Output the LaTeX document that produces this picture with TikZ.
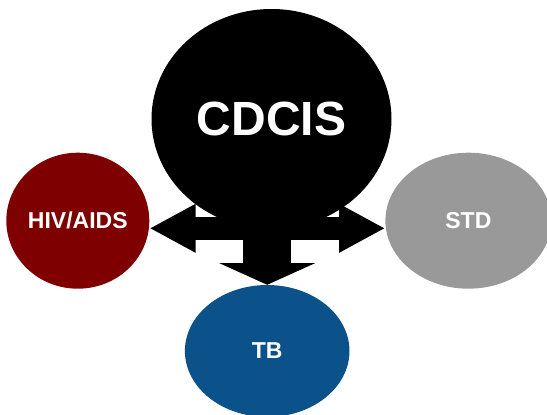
\documentclass[tikz,border=0pt]{standalone}
\usepackage{fontspec}
\setmainfont{Liberation Sans}
\usetikzlibrary{shapes.geometric,arrows.meta,positioning}
\definecolor{HivRed}{HTML}{7F0000}
\definecolor{StdGray}{HTML}{999999}
\definecolor{TbBlue}{HTML}{0A5289}
\begin{document}
\begin{tikzpicture}[
  x=1pt, y=-1pt,
  hub/.style={ellipse, fill=black, inner sep=0pt, minimum width=240pt, minimum height=220pt, text=white, font=\bfseries\fontsize{48}{48}\selectfont},
  prog/.style={ellipse, inner sep=0pt, minimum height=136pt, text=white, font=\bfseries\fontsize{23}{23}\selectfont},
  link/.style={draw=black, line width=23.3pt, {Triangle[width=45.3pt,length=46pt]}-{Triangle[width=45.3pt,length=46pt]}},
  feed/.style={draw=black, line width=48pt, -{Triangle[width=95.3pt,length=21.7pt]}}
]
\useasboundingbox (0,0) rectangle (547,415);

% Nodes
\node[hub] (cdcis) at (271.5,119) {CDCIS};
\node[prog, fill=HivRed, minimum width=143pt] (hiv) at (77.8,220.7) {HIV/AIDS};
\node[prog, fill=StdGray, minimum width=166pt] (std) at (468.4,220.7) {STD};
\node[prog, fill=TbBlue, minimum width=164.6pt, minimum height=132pt] (tb) at (267.2,351) {TB};

% Arrows
\draw[link] ([yshift=-7.6pt]hiv.east) -- ([yshift=-7.6pt]std.west);
\draw[feed] (tb.north |- cdcis.south) -- (tb.north);

\end{tikzpicture}
\end{document}
